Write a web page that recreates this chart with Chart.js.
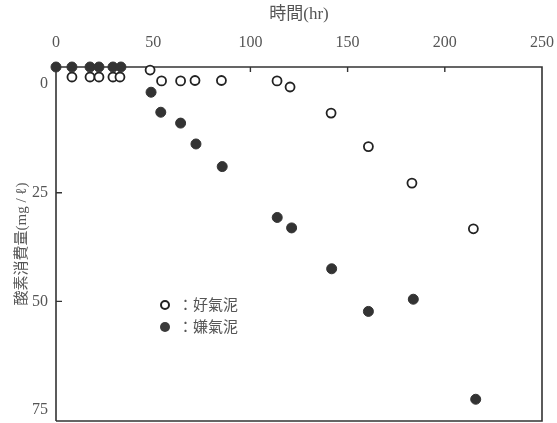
<!DOCTYPE html>
<html>
<head>
<meta charset="utf-8">
<script src="https://cdn.jsdelivr.net/npm/chart.js@4/dist/chart.umd.min.js"></script>
<style>
  html, body { margin: 0; padding: 0; background: #fff; }
  #wrap { position: relative; width: 557px; height: 423px; }
  .legend {
    position: absolute; left: 160px; top: 294px;
    font-family: 'Liberation Serif', 'Noto Sans CJK JP', serif;
    font-size: 15px; color: #555; line-height: 22px;
  }
  .legend .row { display: flex; align-items: center; }
  .legend .mk { width: 10px; height: 10px; border-radius: 50%; box-sizing: border-box; margin-right: 8px; }
  .legend .open { border: 2px solid #222; background: #fff; }
  .legend .fill { background: #3a3a3a; }
</style>
</head>
<body>
<div id="wrap">
  <canvas id="c" width="557" height="423"></canvas>
  <div class="legend">
    <div class="row"><span class="mk open"></span><span>：好氣泥</span></div>
    <div class="row"><span class="mk fill"></span><span>：嫌氣泥</span></div>
  </div>
</div>
<script>
// Elapsed time (hr) and oxygen consumption (mg/ℓ)
const hoursAerobic = [8.2, 17.5, 22.1, 29.3, 32.9, 48.4, 54.3, 64.1, 71.5, 85.1, 113.7, 120.4, 141.5, 160.7, 183.1, 214.7];
const o2Aerobic    = [-1.6, -1.6, -1.6, -1.6, -1.6, -3.2, -0.7, -0.7, -0.8, -0.8, -0.7, 0.7, 6.7, 14.4, 22.8, 33.3];

const hoursAnaerobic = [0, 8.2, 17.5, 22.1, 29.3, 33.4, 48.9, 53.9, 64.1, 72.0, 85.5, 113.8, 121.2, 141.8, 160.7, 183.8, 215.9];
const o2Anaerobic    = [-3.9, -3.9, -3.9, -3.9, -3.9, -3.9, 1.9, 6.5, 9.0, 13.8, 19.0, 30.7, 33.1, 42.5, 52.3, 49.5, 72.5];

const xTickValues = [0, 50, 100, 150, 200, 250];
const yTickValues = [0, 25, 50, 75];
const xInnerTicks = [50, 100, 150, 200];
const yInnerTicks = [25, 50];

const toPoints = (xs, ys) => xs.map((x, i) => ({ x: x, y: ys[i] }));

const serif = "'Liberation Serif', 'Noto Sans CJK JP', serif";

// Box frame and inward tick marks
const framePlugin = {
  id: 'frame',
  beforeDatasetsDraw(chart) {
    const { ctx, chartArea: a, scales } = chart;
    ctx.save();
    ctx.strokeStyle = '#333';
    ctx.lineWidth = 1.6;
    ctx.beginPath();
    ctx.moveTo(a.left, a.bottom);
    ctx.lineTo(a.left, a.top);
    ctx.lineTo(a.right, a.top);
    ctx.lineTo(a.right, a.bottom);
    ctx.lineTo(a.left, a.bottom);
    ctx.stroke();
    ctx.lineWidth = 1.4;
    ctx.beginPath();
    xInnerTicks.forEach(v => {
      const px = scales.x.getPixelForValue(v);
      ctx.moveTo(px, a.top);
      ctx.lineTo(px, a.top + 5);
    });
    yInnerTicks.forEach(v => {
      const py = scales.y.getPixelForValue(v);
      ctx.moveTo(a.left, py);
      ctx.lineTo(a.left + 6, py);
    });
    ctx.stroke();
    ctx.restore();
  }
};

new Chart(document.getElementById('c'), {
  type: 'scatter',
  data: {
    datasets: [
      {
        label: '嫌氣泥',
        data: toPoints(hoursAnaerobic, o2Anaerobic),
        pointRadius: 5,
        pointBackgroundColor: '#333',
        pointBorderColor: '#333',
        pointBorderWidth: 1,
        clip: false
      },
      {
        label: '好氣泥',
        data: toPoints(hoursAerobic, o2Aerobic),
        pointRadius: 4.5,
        pointBackgroundColor: '#fff',
        pointBorderColor: '#222',
        pointBorderWidth: 1.8,
        clip: false
      }
    ]
  },
  options: {
    responsive: false,
    animation: false,
    events: [],
    layout: { autoPadding: false, padding: { top: 0, left: 0, right: 15, bottom: 2 } },
    plugins: { legend: { display: false }, tooltip: { enabled: false } },
    scales: {
      x: {
        type: 'linear',
        position: 'top',
        min: 0,
        max: 250,
        afterBuildTicks: s => { s.ticks = xTickValues.map(v => ({ value: v })); },
        afterFit: s => { s.height = 67; s.paddingLeft = 0; s.paddingRight = 0; },
        grid: { display: false, drawTicks: false },
        border: { display: false },
        ticks: { padding: 15, color: '#555', font: { family: serif, size: 16 } },
        title: {
          display: true, text: '時間(hr)', color: '#555',
          font: { family: serif, size: 17 }, padding: { top: 4, bottom: 0 }
        }
      },
      y: {
        type: 'linear',
        reverse: true,
        min: -3.9,
        max: 77.5,
        afterBuildTicks: s => { s.ticks = yTickValues.map(v => ({ value: v })); },
        afterFit: s => { s.width = 56; s.paddingTop = 0; s.paddingBottom = 0; },
        grid: { display: false, drawTicks: false },
        border: { display: false },
        ticks: { padding: 8, color: '#555', font: { family: serif, size: 16 } },
        title: {
          display: true, text: '酸素消費量(mg / ℓ)', color: '#555',
          font: { family: serif, size: 15 }, padding: { top: 13, bottom: 0 }
        }
      }
    }
  },
  plugins: [framePlugin]
});
</script>
</body>
</html>
